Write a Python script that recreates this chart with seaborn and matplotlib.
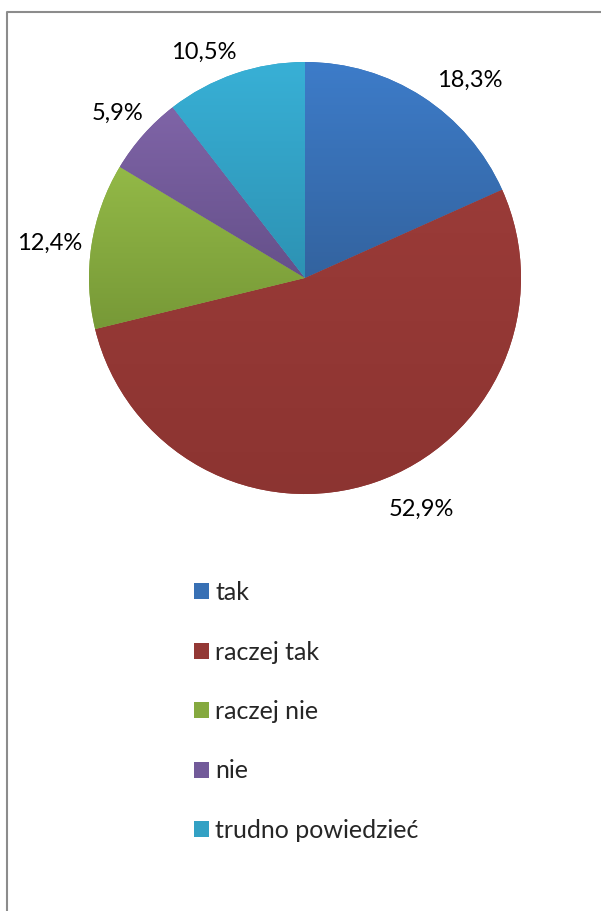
import matplotlib
matplotlib.use("Agg")
import matplotlib.pyplot as plt
import seaborn as sns
import numpy as np
from matplotlib.patches import Patch
from matplotlib.lines import Line2D
from matplotlib.colors import to_rgb

categories = ["tak", "raczej tak", "raczej nie", "nie", "trudno powiedzieć"]
values = [18.3, 52.9, 12.4, 5.9, 10.5]
labels_txt = ["18,3%", "52,9%", "12,4%", "5,9%", "10,5%"]
colors_top = ["#3D7CC9", "#9A3B38", "#93B947", "#7F64A7", "#38B0D6"]
colors_bot = ["#33639F", "#8C3431", "#779937", "#65508A", "#2D92B3"]

# label layout (angle in degrees, distance in pie radii)
label_layout = [(50.2, 1.19), (-63.2, 1.20), (172.3, 1.194), (138.7, 1.158), (114.2, 1.147)]

sns.set_theme(style="white")
plt.rcParams["font.family"] = ["Lato", "DejaVu Sans"]

W, H = 601, 911
fig = plt.figure(figsize=(W / 100, H / 100), dpi=100)
fig.patch.set_facecolor("white")

cx, cy, R = 305, 278, 216
lim = 1.3
side = 2 * lim * R
ax = fig.add_axes([(cx - side / 2) / W, (H - cy - side / 2) / H, side / W, side / H])
mid_colors = [tuple((np.array(to_rgb(a)) + np.array(to_rgb(b))) / 2)
              for a, b in zip(colors_top, colors_bot)]
wedges, _ = ax.pie(values, colors=mid_colors, startangle=90, counterclock=False,
                   radius=1.0, wedgeprops=dict(linewidth=0))
ax.set_xlim(-lim, lim)
ax.set_ylim(-lim, lim)
ax.set_aspect("equal")
ax.axis("off")

# vertical gradient inside each wedge
for w, ct, cb in zip(wedges, colors_top, colors_bot):
    verts = w.get_path().vertices
    x0, x1 = verts[:, 0].min(), verts[:, 0].max()
    y0, y1 = verts[:, 1].min(), verts[:, 1].max()
    t = np.linspace(0, 1, 256)[:, None]
    top = np.array(to_rgb(ct))
    bot = np.array(to_rgb(cb))
    img = (top[None, :] * (1 - t) + bot[None, :] * t)[:, None, :]
    im = ax.imshow(img, extent=(x0, x1, y0, y1), origin="upper", aspect="auto",
                   interpolation="bilinear", zorder=w.get_zorder() + 0.1)
    im.set_clip_path(w)
ax.set_xlim(-lim, lim)
ax.set_ylim(-lim, lim)

# percentage labels outside the pie
for t, (ang, d) in zip(labels_txt, label_layout):
    a = np.deg2rad(ang)
    ax.text(d * np.cos(a), d * np.sin(a), t, ha="center", va="center",
            fontsize=17, color="#000000", zorder=5)

handles = [Patch(facecolor=c, edgecolor="none") for c in mid_colors]
leg = fig.legend(handles, categories, loc="upper left",
                 bbox_to_anchor=(194 / W, 1 - 581 / H), frameon=False,
                 fontsize=18, labelspacing=1.46, handlelength=0.6,
                 handleheight=0.6, handletextpad=0.24, borderpad=0,
                 borderaxespad=0)

# partial outer frame (left and top edges)
fig.add_artist(Line2D([7.3 / W, 7.3 / W, 1.0], [0.0, 1 - 11.5 / H, 1 - 11.5 / H],
                      transform=fig.transFigure, color="#8C8C8C", linewidth=1.5))

fig.savefig("out.png", dpi=100, facecolor="white")
